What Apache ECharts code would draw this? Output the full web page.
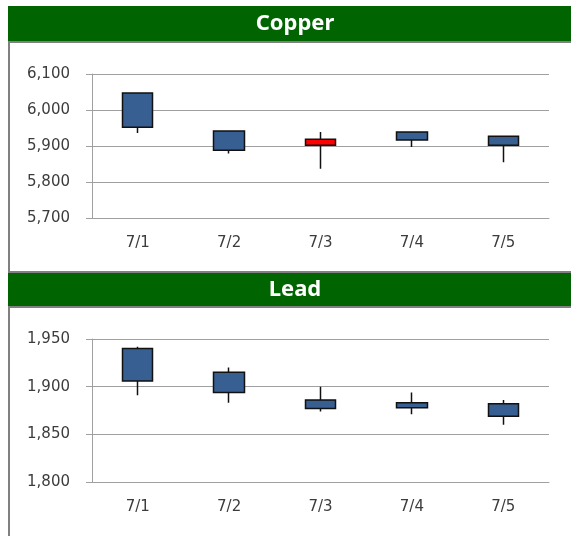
<!DOCTYPE html>
<html>
<head>
<meta charset="utf-8">
<script src="https://cdn.jsdelivr.net/npm/echarts@6/dist/echarts.min.js"></script>
<style>
html, body { margin: 0; padding: 0; background: #fff; }
#chart { width: 571px; height: 536px; }
</style>
</head>
<body>
<div id="chart"></div>
<script>
var categories = ['7/1', '7/2', '7/3', '7/4', '7/5'];

var copperOpen  = [6047, 5942, 5902, 5939, 5927];
var copperClose = [5952, 5888, 5919, 5917, 5902];
var copperLow   = [5936, 5879, 5837, 5897, 5855];
var copperHigh  = [6047, 5942, 5939, 5939, 5927];
var copperTicks = [5700, 6100, 100];

var leadOpen  = [1940, 1915, 1886, 1883, 1882];
var leadClose = [1906, 1894, 1877, 1878, 1869];
var leadLow   = [1891, 1883, 1874, 1871, 1860];
var leadHigh  = [1942, 1920, 1900, 1894, 1886];
var leadTicks = [1800, 1950, 50];

var build = function(o, c, l, h){
    var out = [];
    for (var i = 0; i < o.length; i++){
        out.push([o[i], c[i], l[i], h[i]]);
    }
    return out;
};

var gridColor = '#a0a0a0';
var labelColor = '#3c3c3c';
var labelFont = 'DejaVu Sans';

var makeX = function(idx){
    return {
        gridIndex: idx,
        type: 'category',
        data: categories,
        axisLine: {lineStyle: {color: gridColor}},
        axisTick: {length: 5, lineStyle: {color: gridColor}},
        axisLabel: {color: labelColor, fontFamily: labelFont, fontSize: 15, margin: 18}
    };
};

var makeY = function(idx, t){
    return {
        gridIndex: idx,
        type: 'value',
        min: t[0],
        max: t[1],
        interval: t[2],
        axisLine: {show: true, lineStyle: {color: gridColor}},
        axisTick: {show: true, length: 6, lineStyle: {color: gridColor}},
        splitLine: {lineStyle: {color: gridColor}},
        axisLabel: {
            color: labelColor, fontFamily: labelFont, fontSize: 15, margin: 22,
            formatter: function(v){ return v.toLocaleString('en-US'); }
        }
    };
};

var candleStyle = {
    color: '#ff0000',
    color0: '#375f92',
    borderColor: '#111111',
    borderColor0: '#111111',
    borderWidth: 1.5
};

var panel = function(top, h, title, barTop, barH, borderTop){
    return [
        {type: 'rect', shape: {x: 8, y: barTop, width: 563, height: barH},
         style: {fill: '#006400'}},
        {type: 'line', shape: {x1: 8, y1: borderTop, x2: 571, y2: borderTop},
         style: {stroke: '#808080', lineWidth: 2}},
        {type: 'line', shape: {x1: 9, y1: borderTop, x2: 9, y2: top + h},
         style: {stroke: '#808080', lineWidth: 2}},
        {type: 'text', x: 295, y: barTop + barH / 2,
         style: {text: title, fill: '#ffffff', font: 'bold 22px "Noto Sans"',
                 textAlign: 'center', textVerticalAlign: 'middle'}}
    ];
};

var graphics = []
    .concat(panel(42, 231, 'Copper', 6, 35, 42))
    .concat([{type: 'line', shape: {x1: 8, y1: 272, x2: 571, y2: 272},
              style: {stroke: '#808080', lineWidth: 2}}])
    .concat(panel(307, 229, 'Lead', 273, 33, 307));

var myChart = echarts.init(document.getElementById('chart'));

var option = {
    animation: false,
    grid: [
        {left: 92, top: 74, width: 457, height: 144},
        {left: 92, top: 339, width: 457, height: 143}
    ],
    xAxis: [makeX(0), makeX(1)],
    yAxis: [makeY(0, copperTicks), makeY(1, leadTicks)],
    graphic: graphics,
    series: [
        {
            name: 'Copper', type: 'candlestick', xAxisIndex: 0, yAxisIndex: 0,
            barWidth: 31, itemStyle: candleStyle,
            data: build(copperOpen, copperClose, copperLow, copperHigh)
        },
        {
            name: 'Lead', type: 'candlestick', xAxisIndex: 1, yAxisIndex: 1,
            barWidth: 31, itemStyle: candleStyle,
            data: build(leadOpen, leadClose, leadLow, leadHigh)
        }
    ]
};

myChart.setOption(option);
</script>
</body>
</html>
